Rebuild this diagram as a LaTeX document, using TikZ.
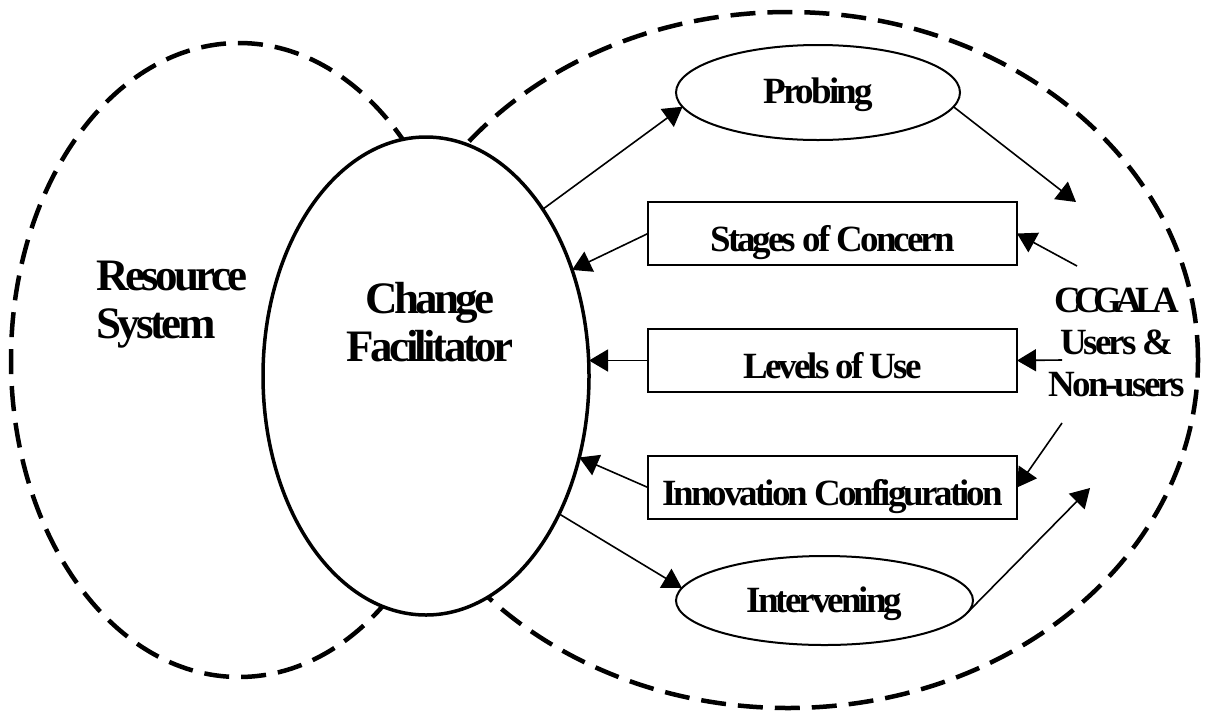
\documentclass[tikz,border=0pt]{standalone}
\usepackage{fontspec}
\setmainfont{Liberation Serif}
\newfontfamily\lab[LetterSpace=-8]{Liberation Serif}
\newfontfamily\labtight[LetterSpace=-19]{Liberation Serif}
\usetikzlibrary{shapes.geometric,arrows.meta}
\begin{document}
\begin{tikzpicture}[x=1pt,y=-1pt,
  dashell/.style={ellipse,draw,line width=4.5pt,dash pattern=on 25pt off 12pt,inner sep=0pt,outer sep=0pt},
  solidell/.style={ellipse,draw,fill=white,line width=2pt,inner sep=0pt,outer sep=0pt},
  labbox/.style={rectangle,draw,fill=white,line width=2pt,inner sep=0pt,outer sep=0pt,minimum width=369pt,minimum height=63pt,text height=38pt,text depth=3pt},
  lblS/.style={font=\lab\bfseries\fontsize{37}{42}\selectfont},
  lblB/.style={font=\lab\bfseries\fontsize{45}{48}\selectfont},
  arr/.style={line width=1.6pt,-{Triangle[length=19pt,width=22pt]}},
]
\fill[white] (0,0) rectangle (1209,713);
\useasboundingbox (0,0) rectangle (1209,713);
% dashed systems
\node[dashell,minimum width=456pt,minimum height=634pt] (RS) at (239,360) {};
\node[dashell,minimum width=820pt,minimum height=696pt] (US) at (788,360) {};
% change facilitator
\node[solidell,line width=3.5pt,minimum width=326pt,minimum height=478pt] (CF) at (426,376) {};
% labels
\node[lblB,anchor=north west,align=left,inner sep=0pt] (RSt) at (96,261) {Resource\\System};
\node[lblB,anchor=north,align=center,inner sep=0pt] (CFt) at (430,282) {Change\\Facilitator};
\node[lblS,anchor=north,align=center,inner sep=0pt] (UT) at (1117,288) {{\labtight\bfseries CCGALA}\\Users \&\\Non-users};
% inner nodes
\node[solidell,lblS,minimum width=284pt,minimum height=95pt,text height=24pt,text depth=3pt] (PR) at (818,92.5) {Probing};
\node[solidell,lblS,minimum width=297pt,minimum height=89pt,text height=26pt,text depth=3pt] (IV) at (824.5,600.5) {Intervening};
\node[labbox,lblS] (SC) at (832.5,233.5) {Stages of Concern};
\node[labbox,lblS] (LU) at (832.5,360.5) {Levels of Use};
\node[labbox,lblS] (IC) at (832.5,487.5) {Innovation Configuration};
% free ends near the users label
\coordinate (pIn) at (1076,202);
\coordinate (sOut) at (1077,266);
\coordinate (lOut) at (1062,360);
\coordinate (iOut) at (1062,423);
\coordinate (vIn) at (1090,488);
% connectors
\draw[arr] (CF.55.6) -- (PR.186);
\draw[arr] (CF.-46.5) -- (IV.175);
\draw[arr] (SC.west) -- (CF.36.7);
\draw[arr] (LU.west) -- (LU.west -| CF.east);
\draw[arr] (IC.west) -- (CF.-28.5);
\draw[arr] (PR.-6) -- (pIn);
\draw[arr] (sOut) -- (SC.east);
\draw[arr] (lOut) -- (LU.east);
\draw[arr] (iOut) -- (IC.east);
\draw[arr] (IV.-5) -- (vIn);
\end{tikzpicture}
\end{document}
